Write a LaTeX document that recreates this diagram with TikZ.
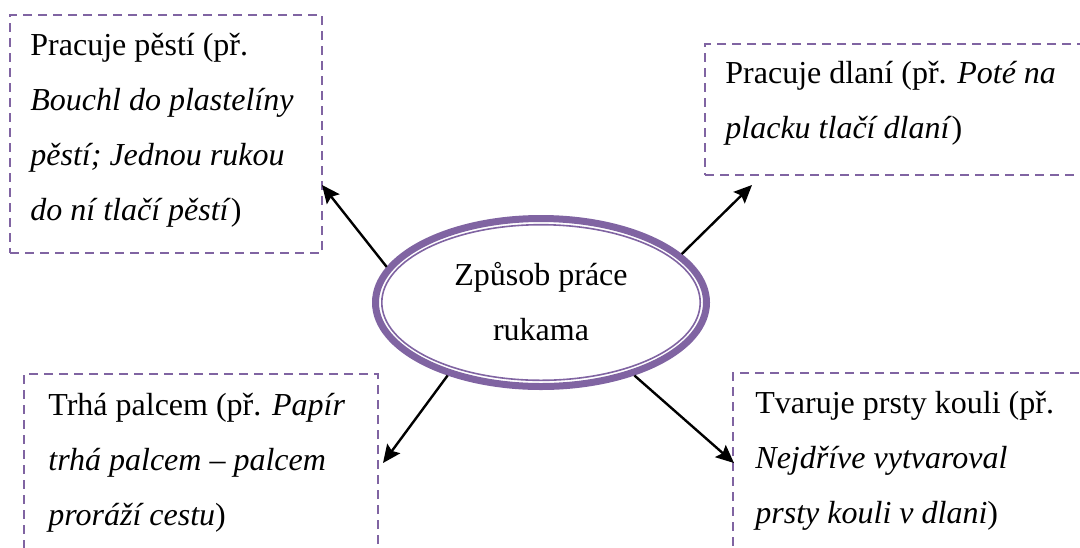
\documentclass[tikz,border=0pt]{standalone}
\usepackage{fontspec}
\setmainfont{Liberation Serif}
\usetikzlibrary{arrows.meta,positioning,shapes.geometric,calc}
\definecolor{lavender}{RGB}{128,100,162}
\tikzset{notebox/.style={draw=lavender, line width=1.3pt, dash pattern=on 4.5pt off 3pt,
             anchor=north west, inner sep=0pt, outer sep=0pt},
         notetext/.style={anchor=north west, inner sep=0pt, align=left},
         hub/.style={ellipse, draw=lavender, line width=3.5pt, minimum width=165.5pt,
             minimum height=84pt, inner sep=0pt},
         pointer/.style={draw=black, line width=1.2pt, -{Stealth[length=9pt,width=8pt,inset=1.5pt]}}}

\begin{document}
\begin{tikzpicture}[x=0.5pt, y=-0.5pt, font=\fontsize{16}{27.5}\selectfont]
          \useasboundingbox (0,0) rectangle (1080,547);
          \clip (0,0) rectangle (1080,547);
          % centre
          \node[hub] (ell) at (541,302.5) {};
          \draw[lavender, line width=0.8pt] (ell.center) ellipse [x radius=79.6pt, y radius=38.9pt];
          \node[anchor=north, inner sep=0pt, align=center] (elltext) at (541,246.5) {\strut Způsob práce\\rukama};
          % boxes
          \node[notebox, minimum width=156pt, minimum height=119pt] (tl) at (10,15) {};
          \node[notebox, minimum width=197.5pt, minimum height=65.5pt] (tr) at (705,44) {};
          \node[notebox, minimum width=177pt, minimum height=103pt] (bl) at (24,374) {};
          \node[notebox, minimum width=200pt, minimum height=103pt] (br) at (733,373) {};
          \node[notetext] (tltext) at (30,16.5) {\strut Pracuje pěstí (př.\\\textit{Bouchl do plastelíny}\\\textit{pěstí; Jednou rukou}\\\textit{do ní tlačí pěstí})};
          \node[notetext] (trtext) at (725,44.5) {\strut Pracuje dlaní (př. \textit{Poté na}\\\textit{placku tlačí dlaní})};
          \node[notetext] (bltext) at (48,376.5) {\strut Trhá palcem (př. \textit{Papír}\\\textit{trhá palcem – palcem}\\\textit{proráží cestu})};
          \node[notetext] (brtext) at (755,374.5) {\strut Tvaruje prsty kouli (př.\\\textit{Nejdříve vytvaroval}\\\textit{prsty kouli v dlani})};
          % arrows
          \draw[pointer] (ell.167) -- ([yshift=-25.5pt]tl.east);
          \draw[pointer] (ell.19) -- ([xshift=23.5pt, yshift=-5pt]tr.south west);
          \draw[pointer] (ell.218) -- ([xshift=2.5pt, yshift=-44.5pt]bl.north east);
          \draw[pointer] (ell.322) -- ([xshift=0.5pt, yshift=-45pt]br.north west);
        \end{tikzpicture}
\end{document}
